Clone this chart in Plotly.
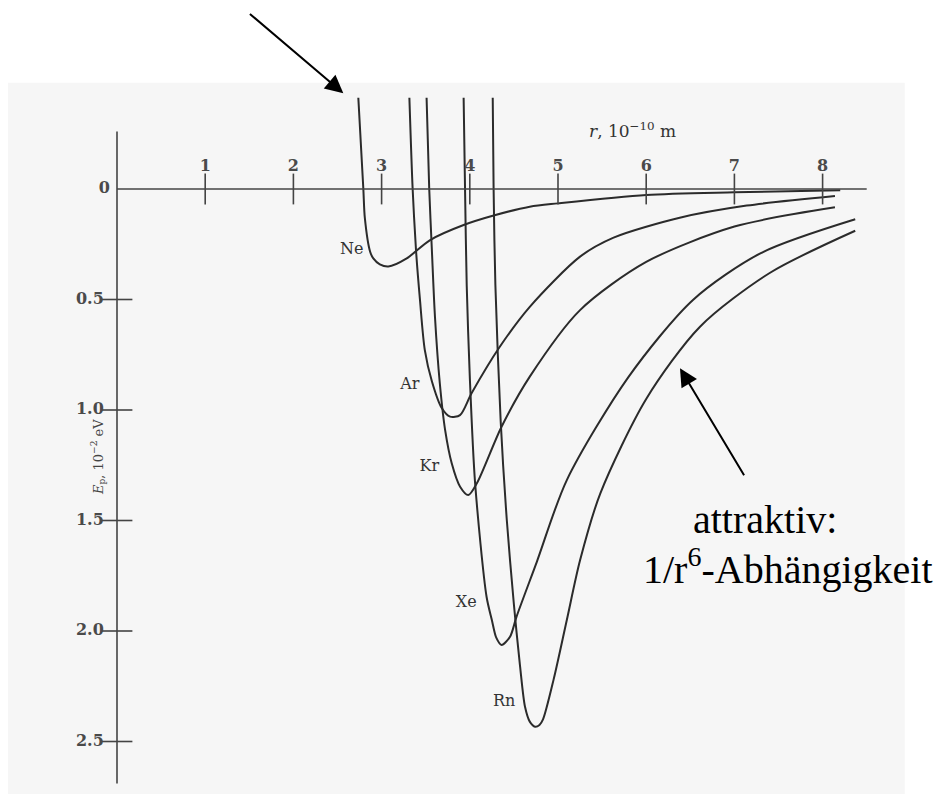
import plotly.graph_objects as go

# ---- data (r in 1e-10 m, depth E in 1e-2 eV, positive = below zero) ----
ne_r = [2.736, 2.793, 2.81, 2.87, 2.906, 2.98, 3.076, 3.285, 3.55, 3.93, 4.27, 4.68, 5.0, 6.0, 7.0, 8.2]
ne_e = [-0.413, 0.0, 0.131, 0.284, 0.314, 0.341, 0.351, 0.314, 0.231, 0.163, 0.12, 0.08, 0.065, 0.027, 0.015, 0.006]

ar_r = [3.315, 3.352, 3.39, 3.435, 3.49, 3.57, 3.68, 3.776, 3.889, 4.02, 4.34, 4.68, 5.25, 5.63, 6.38, 7.14, 8.14]
ar_e = [-0.413, 0.0, 0.276, 0.502, 0.729, 0.87, 0.99, 1.03, 1.023, 0.924, 0.714, 0.533, 0.306, 0.22, 0.13, 0.075, 0.032]

kr_r = [3.51, 3.54, 3.57, 3.605, 3.66, 3.72, 3.795, 3.89, 3.983, 4.08, 4.36, 4.68, 5.25, 6.0, 7.0, 8.14]
kr_e = [-0.413, 0.0, 0.276, 0.578, 0.879, 1.09, 1.241, 1.347, 1.385, 1.332, 1.076, 0.849, 0.548, 0.33, 0.17, 0.083]

xe_r = [3.93, 3.946, 3.965, 4.0, 4.06, 4.19, 4.25, 4.30, 4.36, 4.456, 4.53, 4.76, 5.10, 5.8, 6.53, 7.3, 8.37]
xe_e = [-0.413, 0.0, 0.434, 0.85, 1.33, 1.845, 1.95, 2.03, 2.063, 2.026, 1.935, 1.687, 1.317, 0.85, 0.502, 0.29, 0.137]

rn_r = [4.26, 4.27, 4.29, 4.35, 4.42, 4.50, 4.57, 4.626, 4.68, 4.74, 4.79, 4.83, 4.95, 5.10, 5.25, 5.48, 6.0, 6.61, 7.4, 8.37]
rn_e = [-0.413, 0.0, 0.434, 1.05, 1.5, 1.88, 2.16, 2.343, 2.41, 2.433, 2.425, 2.40, 2.22, 1.95, 1.68, 1.377, 0.95, 0.623, 0.38, 0.189]

gas_names = ["Ne", "Ar", "Kr", "Xe", "Rn"]
label_r = [2.66, 3.32, 3.54, 3.96, 4.39]
label_e = [0.276, 0.887, 1.258, 1.873, 2.32]

x_ticks = [1, 2, 3, 4, 5, 6, 7, 8]
y_ticks = [0.5, 1.0, 1.5, 2.0, 2.5]
y_tick_text = ["0.5", "1.0", "1.5", "2.0", "2.5"]

ink = "#2b2b2b"
serif = "DejaVu Serif"
tick_font = dict(family=serif, size=16, color="#4a4a4a")

fig = go.Figure()

curves = [(ne_r, ne_e), (ar_r, ar_e), (kr_r, kr_e), (xe_r, xe_e), (rn_r, rn_e)]
for name, (r, e) in zip(gas_names, curves):
    fig.add_trace(go.Scatter(x=r, y=e, mode="lines", name=name,
                             line=dict(color=ink, width=2, shape="spline", smoothing=0.8),
                             hoverinfo="skip"))

# tick marks
fig.add_trace(go.Scatter(x=x_ticks, y=[0] * len(x_ticks), mode="markers",
                         marker=dict(symbol="line-ns", size=22, line=dict(color="#444", width=1.6)),
                         hoverinfo="skip"))
fig.add_trace(go.Scatter(x=[0] * len(y_ticks), y=y_ticks, mode="markers",
                         marker=dict(symbol="line-ew", size=22, line=dict(color="#444", width=1.6)),
                         hoverinfo="skip"))
# tick labels
fig.add_trace(go.Scatter(x=x_ticks, y=[-0.1] * len(x_ticks), mode="text",
                         text=["<b>%d</b>" % t for t in x_ticks], textposition="middle center",
                         textfont=tick_font, hoverinfo="skip"))
fig.add_trace(go.Scatter(x=[-0.15] * len(y_ticks), y=y_ticks, mode="text",
                         text=["<b>%s</b>" % t for t in y_tick_text], textposition="middle left",
                         textfont=tick_font, hoverinfo="skip"))
fig.add_trace(go.Scatter(x=[-0.08], y=[0], mode="text", text=["<b>0</b>"], textposition="middle left",
                         textfont=tick_font, hoverinfo="skip"))
# curve labels
fig.add_trace(go.Scatter(x=label_r, y=label_e, mode="text", text=gas_names,
                         textposition="middle center",
                         textfont=dict(family=serif, size=16, color="#333"), hoverinfo="skip"))

# scanned page tint
fig.add_shape(type="rect", xref="paper", yref="paper", x0=0, x1=0.955, y0=0, y1=0.905,
              fillcolor="#f6f6f6", line=dict(width=0), layer="below")

# axis lines
fig.add_shape(type="line", x0=0, x1=8.5, y0=0, y1=0, line=dict(color="#444", width=1.6))
fig.add_shape(type="line", x0=0, x1=0, y0=-0.26, y1=2.69, line=dict(color="#444", width=1.6))

fig.add_annotation(x=5.85, y=-0.265, text="<i>r</i>, 10<sup>−10</sup> m", showarrow=False,
                   font=dict(family=serif, size=17, color="#333"))
fig.add_annotation(x=-0.22, y=1.215, text="<i>E</i><sub>p</sub>, 10<sup>−2</sup> eV", showarrow=False,
                   textangle=-90, font=dict(family=serif, size=13, color="#444"))

# arrows
fig.add_annotation(x=2.566, y=-0.433, ax=1.49, ay=-0.798, axref="x", ayref="y", xref="x", yref="y",
                   text="", showarrow=True, arrowhead=2, arrowsize=1.8, arrowwidth=2, arrowcolor="black")
fig.add_annotation(x=6.383, y=0.811, ax=7.12, ay=1.302, axref="x", ayref="y", xref="x", yref="y",
                   text="", showarrow=True, arrowhead=2, arrowsize=1.8, arrowwidth=2, arrowcolor="black")

fig.add_annotation(x=7.35, y=1.495, text="attraktiv:", showarrow=False,
                   font=dict(family="Liberation Serif", size=40, color="black"))
fig.add_annotation(x=9.27, y=1.71, text="1/r<sup>6</sup>-Abhängigkeit", showarrow=False,
                   xanchor="right",
                   font=dict(family="Liberation Serif", size=40, color="black"))

# page body margin is 8 px, so the plot area starts at page pixel 8
x_lo = (8 - 117) / 88.2
x_hi = (947 - 117) / 88.2
y_top = (8 - 189) / 221
y_bot = (794 - 189) / 221

fig.update_layout(
    width=939, height=786,
    margin=dict(l=0, r=0, t=0, b=0),
    paper_bgcolor="white", plot_bgcolor="rgba(0,0,0,0)",
    showlegend=False,
    xaxis=dict(range=[x_lo, x_hi], visible=False, fixedrange=True),
    yaxis=dict(range=[y_bot, y_top], visible=False, fixedrange=True),
)

fig.write_html("out.html")
